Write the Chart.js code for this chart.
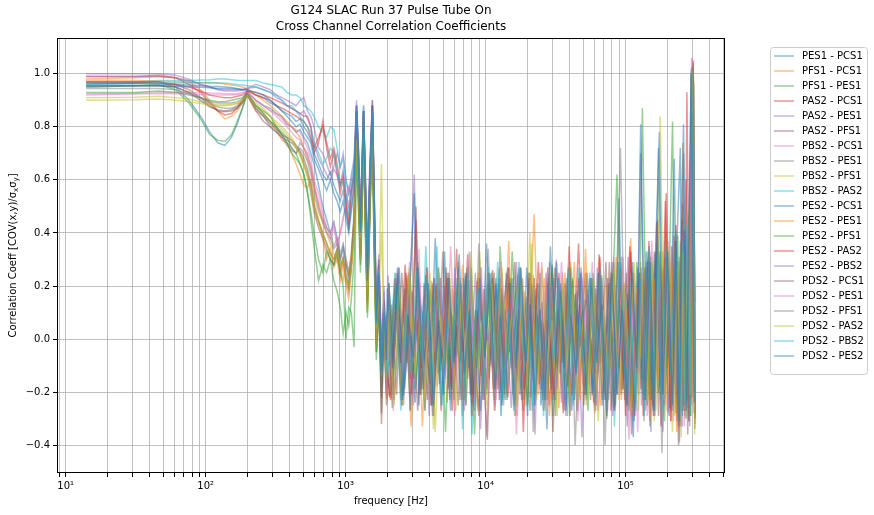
<!DOCTYPE html>
<html><head><meta charset="utf-8">
<script src="https://cdn.jsdelivr.net/npm/chart.js@4"></script>
<style>html,body{margin:0;padding:0;background:#fff}#wrap{position:relative;width:874px;height:515px}</style>
</head><body><div id="wrap"><canvas id="c" width="874" height="515"></canvas></div>
<script>
// ---- frequency grid (Hz) ----
const freqLow = [14,31,46,61,76,92,107,122,137,153,168,183,198];
const freqMid = [229,259,290,320,351,381,412,443,473,504,534,565];
const freqTrans = [595,641,687,732,778,824,870,916,961,1007,1053,1099,1150,1197,1237,1277,1310,1344,1390,1432,1490,1554,1600,1659,1730,1805,1880,1960];
// interleaved sampling grids above 2 kHz (series i uses grid i % 6)
const freqNoiseA = [2040,2220,2415,2628,2859,3140,3390,3690,4010,4370,
 4750,5170,5630,6120,6660,7250,7890,8580,9340,10160,
 11060,12030,13090,14240,15500,16860,18350,19960,21330,23210,
 25250,27470,29890,32520,35380,38500,41880,45570,49580,53940,
 58690,63850,69470,75590,82240,89470,97350,105900,115200,124000,
 132000,143000,154000,165000,177000,190000,205000,223000,236000,250000,
 258000,267000,280000,292000,300000,312000];
const freqNoiseB = [2098,2283,2484,2703,2940,3229,3487,3795,4124,4495,
 4885,5317,5790,6294,6850,7457,8115,8825,9606,10450,
 11375,12373,13463,14646,15942,17341,18873,20529,21938,23871,
 25970,28253,30742,33447,36388,39597,43074,46869,50993,55477,
 60363,65670,71450,77744,84584,92020,100125,108918,118483,127534,
 135762,147076,158389,169703,182045,195415,210843,229356,242726,257125,
 265353,274610,287980,300322,305000,314000];
const freqNoiseC = [1983,2158,2348,2555,2780,3053,3296,3588,3899,4249,
 4618,5027,5474,5950,6475,7049,7671,8342,9081,9878,
 10754,11697,12727,13845,15070,16393,17842,19407,20739,22567,
 24550,26709,29062,31619,34400,37433,40720,44307,48206,52445,
 57064,62081,67545,73495,79961,86991,94652,102965,112008,120564,
 128342,139037,149733,160428,172095,184735,199319,216820,229460,243072,
 250851,259601,272241,283909,295000,310000];
const freqNoiseD = [2069,2252,2449,2665,2900,3185,3438,3742,4067,4432,
 4817,5243,5710,6207,6755,7353,8002,8702,9473,10304,
 11217,12201,13276,14442,15720,17099,18611,20243,21633,23540,
 25609,27860,30314,32982,35882,39047,42475,46217,50284,54706,
 59523,64757,70456,76663,83408,90740,98732,107404,116836,125761,
 133874,145031,156187,167343,179513,192698,207911,226167,239351,253550,
 261664,270791,283976,296146,303000,313000];
const freqNoiseE = [2011,2189,2381,2591,2819,3096,3343,3638,3954,4309,
 4684,5098,5551,6034,6567,7149,7780,8460,9209,10018,
 10905,11862,12907,14041,15283,16624,18093,19681,21031,22885,
 24897,27086,29472,32065,34885,37961,41294,44932,48886,53185,
 57868,62956,68497,74532,81089,88217,95987,104417,113587,122264,
 130152,140998,151844,162690,174522,187340,202130,219878,232696,246500,
 254388,263262,276080,287912,297000,311000];
const freqNoiseF = [2128,2315,2519,2741,2982,3275,3536,3849,4182,4558,
 4954,5392,5872,6383,6946,7562,8229,8949,9742,10597,
 11536,12547,13653,14852,16167,17585,19139,20818,22247,24208,
 26336,28651,31175,33918,36901,40156,43681,47530,51712,56259,
 61214,66596,72457,78840,85776,93317,101536,110454,120154,129332,
 137676,149149,160622,172095,184611,198170,213815,232589,246148,260750,
 269094,278481,292040,298000,306000,315000];
const freqGrids = [freqNoiseA, freqNoiseB, freqNoiseC, freqNoiseD, freqNoiseE, freqNoiseF]
  .map(n => [].concat(freqLow, freqMid, freqTrans, n));

const seriesNames = ["PES1 - PCS1","PFS1 - PCS1","PFS1 - PES1","PAS2 - PCS1","PAS2 - PES1","PAS2 - PFS1","PBS2 - PCS1","PBS2 - PES1","PBS2 - PFS1","PBS2 - PAS2","PES2 - PCS1","PES2 - PES1","PES2 - PFS1","PES2 - PAS2","PES2 - PBS2","PDS2 - PCS1","PDS2 - PES1","PDS2 - PFS1","PDS2 - PAS2","PDS2 - PBS2","PDS2 - PES2"];

const yTicks = [-0.4,-0.2,0.0,0.2,0.4,0.6,0.8,1.0];

// ---- series values (low / mid / transition / noise) ----
const s0 = [.96,.965,.97,.95,.90,.84,.78,.74,.73,.76,.81,.87,.93,
 .90,.88,.87,.85,.84,.81,.80,.78,.79,.76,.74,.70,
 .66,.58,.50,.45,.40,.44,.38,.30,.35,.28,.22,.30,.45,.80,.62,.40,.55,.82,.50,.25,.60,.85,.45,.05,.20,-.15,.10,-.12,
 .21,-.08,.27,-.19,.04,-.24,.15,.02,-.17,.38, -.12,.09,-.27,.18,-.05,.24,-.21,.11,-.14,.36, -.03,.19,-.25,.07,.23,-.16,.13,-.29,.20,-.06,
 .14,-.34,.28,-.10,.05,-.18,.22,-.27,.09,.17, -.20,.25,-.12,.08,-.26,.53,-.15,.19,-.31,.12, -.08,.27,-.23,.33,-.18,.10,-.29,.68,-.21,.36, -.27,.24,-.16,.41,1.0,-.24];
const s1 = [.98,.985,.99,.985,.97,.94,.90,.86,.83,.84,.86,.89,.92,
 .86,.84,.82,.79,.75,.74,.70,.66,.62,.58,.57,.60,
 .52,.45,.38,.30,.34,.27,.30,.22,.28,.20,.15,.25,.40,.72,.55,.32,.50,.80,.42,.15,.52,.82,.40,-.05,.12,-.20,.05,-.18,
 -.14,.25,-.20,.09,-.33,.17,.03,-.11,.22,-.18, .08,-.24,.19,-.06,.28,-.15,.12,-.27,.05,.21, -.19,.14,-.08,.37,-.23,.02,.18,-.13,.24,-.21,
 .06,-.17,.23,-.26,.11,-.04,.29,-.19,.15,-.09, -.28,.20,-.05,.16,-.22,.27,-.14,.38,-.24,.10, -.19,.35,-.26,.18,-.09,.40,-.31,.24,-.15,.74, -.30,.38,-.22,.45,.98,-.29];
const s2 = [.95,.955,.96,.94,.89,.83,.77,.75,.745,.77,.82,.87,.92,
 .88,.86,.84,.80,.78,.76,.72,.70,.66,.62,.56,.45,
 .35,.22,.28,.25,.30,.22,.18,.12,.02,.10,.05,.15,.30,.70,.48,.25,.45,.75,.35,.08,.45,.78,.30,-.08,.10,-.22,.08,-.15,
 .10,-.26,.18,-.05,.24,-.15,.29,-.09,.04,-.21, .27,-.12,.07,-.23,.16,.01,.22,-.36,.13,-.07, .19,-.18,.35,-.10,-.02,-.25,.14,-.06,.25,-.20,
 .08,-.16,.21,-.29,.18,-.11,.27,-.14,.03,-.23, .20,-.07,.24,-.30,.12,.62,-.19,.17,-.26,.29, -.11,.20,-.33,.25,-.20,.27,-.07,.82,-.28,.31, -.17,.40,-.30,.35,1.02,-.20];
const s3 = [.99,.99,.995,.985,.96,.93,.89,.86,.845,.85,.87,.90,.935,
 .93,.92,.91,.90,.89,.88,.87,.86,.85,.84,.84,.80,
 .70,.74,.82,.72,.65,.70,.62,.55,.60,.50,.42,.55,.62,.88,.70,.45,.65,.86,.55,.30,.62,.90,.55,.10,.30,-.10,.15,-.05,
 -.22,.19,-.06,.28,-.15,.45,-.19,.24,-.03,.20, -.27,.10,-.16,.34,-.09,.13,-.25,.22,.04,-.19, .26,-.11,.17,-.22,.08,.24,-.35,.12,-.16,.21,
 -.07,.27,-.23,.11,-.28,.16,-.04,.36,-.18,.09, -.24,.32,-.10,.21,-.27,.23,-.15,.35,-.06,.25, -.29,.30,-.17,.44,-.12,.52,-.26,.37,-.33,.45, -.21,.60,-.24,.50,1.04,.14];
const s4 = [1.0,1.0,1.0,.995,.98,.96,.95,.94,.935,.935,.935,.94,.945,
 .96,.95,.94,.92,.91,.90,.89,.88,.90,.91,.86,.84,
 .80,.72,.70,.66,.62,.65,.70,.65,.70,.60,.55,.62,.68,.90,.72,.50,.66,.88,.60,.35,.66,.90,.58,.15,.32,-.05,.20,-.10,
 .24,-.09,.13,-.25,.07,.62,-.21,.16,-.29,.23, -.04,.20,-.18,.27,-.23,.09,-.12,.25,-.34,.15, -.10,.23,-.20,.05,-.26,.29,-.08,.16,-.22,.13,
 -.19,.25,-.07,.30,-.24,.06,-.21,.18,-.37,.19, -.11,.27,-.23,.10,-.29,.15,-.09,.31,-.18,.22, -.25,.29,-.35,.32,-.15,.26,-.28,.39,-.22,.30, -.33,.36,-.26,.44,1.0,-.28];
const s5 = [.965,.965,.965,.96,.94,.91,.88,.86,.857,.86,.87,.89,.92,
 .86,.82,.80,.78,.76,.75,.74,.72,.70,.66,.62,.55,
 .48,.42,.38,.34,.30,.28,.33,.25,.30,.22,.18,.28,.42,.78,.55,.30,.52,.80,.40,.12,.50,.85,.42,.00,.18,-.32,.05,-.20,
 .13,-.21,.25,-.09,.18,-.27,.05,-.23,.21,-.13, .33,-.19,.09,-.25,.23,-.11,.03,-.29,.19,-.15, .25,-.23,.11,-.05,.29,-.21,.07,-.27,.23,-.17,
 .05,-.25,.27,-.13,.21,-.29,.17,-.03,.25,-.23, .19,-.09,.29,-.27,.07,-.21,.25,-.36,.17,-.19, .27,-.23,.33,-.29,.25,-.11,.35,-.31,.29,-.25, .33,-.36,.46,-.22,.96,-.30];
const s6 = [.92,.925,.93,.93,.93,.93,.928,.927,.925,.925,.925,.93,.935,
 .90,.88,.86,.85,.83,.81,.80,.79,.78,.75,.72,.68,
 .60,.55,.48,.42,.38,.42,.35,.40,.46,.50,.57,.55,.60,.85,.65,.40,.58,.84,.52,.22,.55,.86,.48,.05,.22,-.08,.12,-.15,
 .17,-.23,.05,-.13,.29,-.07,.21,-.27,.09,-.02, .23,-.15,.35,-.09,.07,-.25,.19,-.05,.27,-.37, .15,-.11,.25,-.21,.05,-.29,.23,-.15,.13,-.04,
 .29,-.17,.07,-.19,.25,-.09,.21,-.31,.05,-.17, .23,-.27,.11,-.07,.31,-.21,.15,-.38,.25,-.13, .21,-.29,.37,-.11,.27,-.25,.33,-.15,.29,-.33, .41,-.27,.35,-.23,1.06,-.18];
const s7 = [.95,.955,.955,.95,.93,.91,.89,.875,.87,.87,.88,.90,.93,
 .88,.85,.82,.80,.77,.74,.72,.70,.74,.72,.70,.65,
 .58,.50,.45,.42,.40,.35,.38,.32,.36,.30,.25,.32,.48,.80,.58,.35,.55,.82,.46,.18,.50,.84,.44,.02,.18,-.18,.10,-.10,
 -.09,.21,-.23,.07,-.05,.27,-.19,.17,-.25,.03, -.21,.25,-.07,.19,-.29,.15,-.11,.23,-.05,.34, -.19,.07,-.25,.21,-.09,.27,-.23,.05,-.35,.17,
 -.07,.23,-.17,.09,-.27,.21,-.05,.25,-.21,.07, -.25,.19,-.40,.23,-.11,.72,-.21,.27,-.09,.21, -.31,.25,-.13,.31,-.43,.23,-.27,.33,-.15,.37, -.29,.31,-.33,.43,.98,-.26];
const s8 = [.91,.912,.915,.91,.905,.895,.888,.883,.883,.885,.89,.90,.92,
 .89,.87,.84,.82,.80,.78,.76,.73,.70,.66,.62,.58,
 .50,.45,.40,.36,.33,.30,.34,.28,.30,.24,.20,.28,.42,.76,.55,.32,.50,.78,.40,.12,.48,.80,.38,.00,.20,.66,.05,-.12,
 .07,-.17,.23,-.25,.15,-.03,.27,-.21,.05,-.34, .19,-.09,.25,-.05,.21,-.23,.07,-.19,.33,-.11, .15,-.25,.21,-.07,.23,-.29,.11,-.05,.40,-.21,
 .07,-.27,.25,-.11,.05,-.23,.29,-.09,.19,-.25, .23,-.11,.07,-.29,.27,-.15,.09,-.25,.21,-.07, .29,-.23,.25,-.31,.33,-.13,.27,-.35,.39,-.25, .31,-.21,.45,-.29,1.0,-.22];
const s9 = [.97,.97,.975,.975,.975,.977,.978,.98,.98,.978,.976,.975,.975,
 .975,.965,.96,.955,.95,.93,.92,.92,.91,.88,.87,.86,
 .84,.80,.78,.76,.80,.79,.72,.65,.68,.60,.55,.60,.66,.88,.70,.45,.64,.88,.58,.30,.62,.88,.56,.10,.28,-.12,.15,-.18,
 -.05,.25,-.11,.19,-.27,.07,-.21,.35,-.07,.17, -.25,.05,-.19,.23,-.09,.27,-.36,.09,-.03,.21, -.11,.29,-.23,.07,-.13,.25,-.05,.21,-.27,.09,
 -.21,.11,-.29,.23,-.07,.19,-.25,.27,-.09,.05, -.23,.25,-.11,.21,-.33,.29,-.07,.23,-.25,.19, -.21,.33,-.27,.29,-.23,.37,-.13,.31,-.29,.35, -.25,.39,-.21,.49,1.02,-.26];
const s10 = [.965,.965,.962,.96,.958,.955,.953,.952,.95,.948,.945,.94,.94,
 .92,.91,.89,.88,.86,.85,.84,.82,.83,.80,.78,.75,
 .70,.66,.62,.60,.63,.58,.55,.52,.56,.48,.42,.50,.58,.88,.66,.42,.60,.86,.52,.25,.58,.88,.50,.08,.25,-.10,.12,-.05,
 .19,-.07,.27,-.21,.09,.55,-.25,.21,-.05,.23, -.17,.33,-.23,.07,-.09,.25,-.21,.11,-.27,.05, -.07,.21,-.29,.25,-.11,.09,-.23,.27,-.03,.19,
 -.25,.07,-.19,.29,-.09,.23,-.27,.11,-.05,.25, -.21,.09,-.25,.23,-.07,.29,-.19,.15,-.37,.27, -.15,.33,-.23,.27,.78,-.21,.31,-.27,.35,.72, -.29,.41,-.23,.37,1.0,-.20];
const s11 = [.975,.975,.972,.97,.968,.966,.965,.965,.962,.958,.955,.95,.945,
 .92,.90,.88,.86,.84,.82,.80,.78,.76,.72,.68,.64,
 .58,.50,.44,.40,.36,.32,.30,.26,.22,.30,.25,.32,.45,.82,.58,.35,.55,.84,.45,.15,.52,.86,.42,.00,.20,-.15,.08,-.22,
 -.19,.11,-.25,.23,-.07,.19,-.33,.09,-.21,.27, -.05,.21,-.11,.29,-.23,.07,-.19,.25,-.09,.21, -.27,.09,-.21,.23,-.07,.27,-.25,.13,.47,-.17,
 .23,-.29,.11,-.09,.25,-.21,.07,-.23,.34,-.13, .09,-.25,.21,-.11,.31,-.23,.11,-.29,.19,-.07, .27,-.31,.23,-.15,.33,-.27,.29,-.35,.37,-.23, .35,-.29,.43,-.25,.97,-.32];
const s12 = [.93,.93,.935,.93,.92,.91,.90,.895,.895,.90,.905,.91,.925,
 .88,.85,.82,.80,.77,.74,.70,.68,.66,.62,.55,.48,
 .40,.30,.25,.33,.30,.28,.32,.25,.20,.00,.12,.10,-.03,.72,.50,.28,.48,.76,.38,.10,.46,.80,.35,-.05,.15,-.18,.06,-.15,
 .21,-.23,.09,-.05,.25,-.19,.07,-.27,.19,-.09, .23,-.35,.11,-.07,.21,-.25,.27,-.11,.05,-.21, .25,-.09,.19,-.23,.33,-.05,.09,-.25,.21,-.13,
 .07,-.23,.27,-.11,.19,-.29,.23,-.07,.11,-.27, .25,-.13,.09,-.23,.29,-.11,.21,-.27,.07,-.21, .87,-.25,.29,-.13,.33,-.31,.27,-.17,.39,-.27, .33,-.23,.47,-.29,1.03,-.24];
const s13 = [.97,.97,.97,.96,.95,.935,.92,.914,.91,.91,.915,.92,.935,
 .92,.91,.90,.88,.87,.86,.85,.84,.83,.82,.80,.76,
 .72,.76,.80,.74,.68,.72,.66,.58,.62,.52,.45,.56,.62,.86,.68,.44,.62,.86,.54,.28,.60,.88,.52,.08,.28,-.08,.14,-.12,
 -.23,.13,-.09,.25,-.21,.07,-.11,.27,-.25,.11, -.07,.23,-.27,.13,-.05,.32,-.21,.09,-.23,.25, -.11,.21,-.07,.27,-.25,.11,-.19,.23,-.05,.29,
 -.27,.09,-.21,.25,-.11,.35,-.23,.13,-.09,.23, -.13,.31,-.23,.11,-.25,.27,-.29,.33,-.09,.23, -.23,.37,-.29,.45,-.21,.55,-.31,.43,-.25,.51, -.27,.93,-.23,.55,1.05,-.22];
const s14 = [.99,.99,.99,.985,.975,.96,.95,.942,.94,.94,.94,.942,.945,
 .95,.94,.93,.91,.90,.88,.87,.86,.85,.86,.83,.80,
 .74,.68,.65,.62,.60,.64,.62,.58,.64,.55,.50,.58,.64,.88,.70,.48,.64,.86,.56,.32,.64,.88,.55,.12,.30,-.08,.18,-.08,
 .09,-.21,.27,-.07,.19,-.25,.23,-.11,.05,-.29, .21,-.09,.25,-.21,.11,-.27,.33,-.07,.19,-.23, .07,-.27,.23,-.13,.09,-.23,.27,-.09,.21,-.36,
 .25,-.11,.19,-.23,.07,-.29,.21,-.13,.27,-.07, .11,-.25,.23,-.09,.29,-.21,.07,-.33,.25,-.13, .70,-.27,.31,-.23,.27,-.35,.33,-.21,.29,-.39, .37,-.25,.41,-.31,1.01,-.28];
const s15 = [.955,.955,.955,.95,.93,.90,.875,.865,.86,.865,.875,.895,.925,
 .87,.84,.81,.79,.77,.76,.75,.73,.71,.68,.64,.58,
 .50,.44,.40,.36,.32,.30,.34,.27,.31,.24,.20,.28,.44,.80,.56,.32,.52,.82,.42,.14,.50,.84,.40,-.02,.16,-.28,.02,-.25,
 -.11,.23,-.07,.19,-.27,.50,-.21,.09,-.25,.21, -.09,.27,-.19,.05,-.23,.25,-.29,.11,-.07,-.38, .23,-.19,.09,.27,-.21,.07,-.27,.25,-.11,.09,
 -.23,.21,-.35,.11,-.09,.27,-.19,.23,-.25,.07, -.11,.25,-.21,.29,-.27,.13,-.23,.09,-.29,.25, -.21,.29,-.25,.35,-.33,.31,-.13,.39,-.40,.27, -.27,.35,-.31,.41,.99,-.34];
const s16 = [.925,.925,.925,.925,.925,.922,.92,.92,.92,.92,.922,.925,.93,
 .90,.88,.86,.84,.82,.80,.78,.76,.75,.72,.69,.65,
 .58,.52,.46,.42,.40,.44,.36,.40,.45,.52,.57,.52,.58,.84,.62,.38,.56,.84,.50,.20,.54,.86,.46,.04,.20,-.10,.10,-.20,
 .19,-.27,.07,-.13,.25,-.09,.34,-.23,.11,-.05, .25,-.13,.09,-.29,.23,-.07,.21,-.25,.27,-.11, .07,-.23,.29,-.09,.19,-.36,.23,-.07,.25,-.21,
 .11,-.25,.21,-.07,.29,-.13,.09,-.27,.23,-.09, .29,-.15,.11,-.27,.23,-.09,.31,-.23,.13,-.35, .25,-.15,.33,-.29,.27,-.23,.37,-.31,.31,-.25, .39,-.33,.47,-.21,1.06,-.26];
const s17 = [.945,.945,.945,.94,.925,.91,.895,.89,.89,.89,.895,.905,.925,
 .87,.84,.80,.78,.76,.73,.71,.70,.72,.70,.67,.62,
 .55,.48,.44,.40,.38,.34,.36,.30,.34,.28,.24,.30,.46,.78,.56,.34,.53,.80,.44,.16,.48,.82,.42,.00,.16,-.20,.08,-.12,
 -.21,.09,-.25,.21,-.11,.23,-.07,.27,-.29,.11, -.13,.23,-.09,.27,-.25,.07,-.21,.36,-.11,.19, -.23,.27,-.13,.09,-.29,.21,-.07,.25,-.21,.11,
 -.09,.29,-.23,.13,-.11,.25,-.40,.09,-.21,.23, -.27,.11,-.13,.25,-.07,.31,-.25,.21,-.11,.27, -.23,.31,-.29,.25,-.13,.35,-.27,.29,-.33,.70, -.25,.37,-.29,.43,.97,-.28];
const s18 = [.90,.902,.905,.90,.895,.888,.882,.88,.88,.882,.888,.90,.92,
 .88,.86,.84,.81,.79,.77,.75,.72,.69,.65,.61,.57,
 .50,.44,.40,.36,.32,.30,.33,.27,.30,.23,.19,.27,.40,.75,.54,.30,.50,.78,.40,.10,.48,.80,.38,-.02,.18,.40,.04,-.15,
 .11,-.25,.21,-.09,.27,-.13,.07,-.23,.25,-.35, .09,-.11,.23,-.27,.13,-.05,.33,-.21,.07,-.25, .21,-.13,.27,-.07,.11,-.25,.23,-.09,.36,-.23,
 .27,-.09,.07,-.29,.23,-.11,.19,-.25,.09,-.21, .23,-.31,.11,-.13,.27,-.23,.21,-.09,.29,-.27, .25,-.23,.31,-.27,.84,-.21,.35,-.29,.27,-.37, .33,-.27,.49,-.21,1.0,-.36];
const s19 = [.96,.962,.965,.965,.966,.966,.966,.965,.965,.963,.96,.958,.955,
 .95,.94,.93,.92,.90,.88,.88,.86,.84,.82,.80,.78,
 .74,.70,.66,.68,.72,.70,.64,.58,.60,.54,.48,.56,.62,.86,.66,.42,.60,.86,.54,.26,.60,.86,.52,.06,.26,-.14,.12,-.12,
 -.07,.21,-.27,.11,-.13,.25,-.09,.23,-.21,.35, -.25,.09,-.11,.21,-.34,.25,-.07,.19,-.23,.27, -.09,.23,-.21,.11,-.27,.29,-.13,.07,-.25,.21,
 -.29,.13,-.09,.23,-.21,.27,-.23,.09,-.13,.25, -.11,.27,-.23,.13,-.25,.29,-.21,.11,-.27,.23, -.29,.35,-.23,.39,-.27,.33,-.13,.41,-.31,.37, -.25,.43,-.29,.51,1.01,-.22];
const s20 = [.955,.955,.955,.953,.951,.949,.947,.945,.945,.945,.943,.94,.94,
 .93,.92,.90,.88,.86,.84,.82,.80,.81,.78,.76,.74,
 .68,.64,.60,.56,.60,.55,.52,.48,.52,.45,.40,.48,.56,.86,.64,.40,.58,.86,.50,.22,.56,.88,.48,.06,.24,-.12,.10,-.08,
 .19,-.11,.25,-.23,.09,-.07,.27,-.19,.21,-.25, .07,-.21,.23,-.09,.32,-.13,.11,-.27,.23,-.07, .25,-.19,.09,-.23,.21,-.11,.27,-.09,.13,-.25,
 .11,-.23,.35,-.07,.21,-.27,.09,-.13,.25,-.21, .23,-.09,.13,-.29,.25,-.21,.11,-.25,.29,-.11, .81,-.23,.29,-.27,.72,-.21,.33,-.25,.37,-.31, .39,.81,-.27,.47,1.0,-.24];

const seriesValues = [s0,s1,s2,s3,s4,s5,s6,s7,s8,s9,s10,s11,s12,s13,s14,s15,s16,s17,s18,s19,s20];

// ---- styling ----
const palette = ['#1f77b4','#ff7f0e','#2ca02c','#d62728','#9467bd','#8c564b','#e377c2','#7f7f7f','#bcbd22','#17becf'];
function rgba(hex, a){const n=parseInt(hex.slice(1),16);return `rgba(${n>>16&255},${n>>8&255},${n&255},${a})`;}
const FONT = "'DejaVu Sans', sans-serif";
const sup = ['\u2070','\u00b9','\u00b2','\u00b3','\u2074','\u2075','\u2076'];
const X_MIN = 8.67, X_MAX = 514000;

const datasets = seriesValues.map((vals, i) => {
  const fr = freqGrids[i % freqGrids.length];
  return {
    label: seriesNames[i],
    data: fr.map((f, j) => ({x: f, y: vals[j]})),
    borderColor: rgba(palette[i % 10], 0.5),
    backgroundColor: rgba(palette[i % 10], 0.5),
    borderWidth: 1.5,
    pointRadius: 0,
    fill: false,
    tension: 0,
    order: seriesValues.length - 1 - i
  };
});

const deco = {
  id: 'deco',
  afterDraw(chart) {
    const {ctx, chartArea: a} = chart;
    ctx.save();
    ctx.strokeStyle = '#000'; ctx.lineWidth = 1;
    const L = Math.round(a.left), T = Math.round(a.top), R = Math.round(a.right), B = Math.round(a.bottom);
    ctx.strokeRect(L + 0.5, T + 0.5, R - L - 1, B - T - 1);
    const cx = (a.left + a.right) / 2;
    ctx.fillStyle = '#000';
    ctx.textAlign = 'center'; ctx.textBaseline = 'middle';
    ctx.font = '12px ' + FONT;
    ctx.fillText('G124 SLAC Run 37 Pulse Tube On', cx, 11);
    ctx.fillText('Cross Channel Correlation Coefficients', cx, 27);
    ctx.font = '10px ' + FONT;
    ctx.fillText('frequency [Hz]', cx, 501);
    const parts = [['Correlation Coeff [COV(x,y)/\u03c3', 0], ['x', 1], ['\u03c3', 0], ['y', 1], [']', 0]];
    const fontFor = s => s ? '7px ' + FONT : '10px ' + FONT;
    let w = 0;
    parts.forEach(p => { ctx.font = fontFor(p[1]); w += ctx.measureText(p[0]).width; });
    ctx.translate(13, (a.top + a.bottom) / 2);
    ctx.rotate(-Math.PI / 2);
    ctx.textAlign = 'left'; ctx.textBaseline = 'middle';
    let x = -w / 2;
    parts.forEach(p => { ctx.font = fontFor(p[1]); ctx.fillText(p[0], x, p[1] ? 3 : 0); x += ctx.measureText(p[0]).width; });
    ctx.restore();
    // legend
    ctx.save();
    const lx = 770.5, ly = 47.5, lw = 97, lh = 327, r = 3;
    ctx.beginPath();
    ctx.moveTo(lx + r, ly); ctx.lineTo(lx + lw - r, ly); ctx.quadraticCurveTo(lx + lw, ly, lx + lw, ly + r);
    ctx.lineTo(lx + lw, ly + lh - r); ctx.quadraticCurveTo(lx + lw, ly + lh, lx + lw - r, ly + lh);
    ctx.lineTo(lx + r, ly + lh); ctx.quadraticCurveTo(lx, ly + lh, lx, ly + lh - r);
    ctx.lineTo(lx, ly + r); ctx.quadraticCurveTo(lx, ly, lx + r, ly); ctx.closePath();
    ctx.fillStyle = 'rgba(255,255,255,0.8)'; ctx.fill();
    ctx.strokeStyle = '#cccccc'; ctx.lineWidth = 1; ctx.stroke();
    ctx.font = '10px ' + FONT; ctx.textAlign = 'left'; ctx.textBaseline = 'middle';
    chart.data.datasets.forEach((d, i) => {
      const y = 56 + 15 * i;
      ctx.strokeStyle = d.borderColor; ctx.lineWidth = 1.5;
      ctx.beginPath(); ctx.moveTo(774, y); ctx.lineTo(794, y); ctx.stroke();
      ctx.fillStyle = '#000';
      ctx.fillText(d.label, 802, y + 0.5);
    });
    ctx.restore();
  }
};

new Chart(document.getElementById('c'), {
  type: 'line',
  data: {datasets},
  plugins: [deco],
  options: {
    responsive: false, animation: false, events: [],
    layout: {padding: {top: 38, right: 149, left: 0, bottom: 0}},
    plugins: {legend: {display: false}, tooltip: {enabled: false}, title: {display: false}},
    scales: {
      x: {
        type: 'logarithmic', min: X_MIN, max: X_MAX,
        afterBuildTicks: s => {
          const t = [];
          for (let e = 0; e <= 5; e++) for (let m = 1; m <= 9; m++) { const v = m * Math.pow(10, e); if (v >= X_MIN && v <= X_MAX) t.push({value: v}); }
          s.ticks = t;
        },
        afterFit: s => { s.height = 42; },
        ticks: {
          autoSkip: false, maxRotation: 0, minRotation: 0, padding: 3, color: '#000',
          font: {family: FONT, size: 10},
          callback: v => { const e = Math.log10(v); const r = Math.round(e); return Math.abs(e - r) < 1e-9 ? '10' + sup[r] : ''; }
        },
        grid: {color: '#b0b0b0', lineWidth: 0.8, tickLength: 4, tickColor: '#000', tickWidth: 1},
        border: {display: false}
      },
      y: {
        type: 'linear', min: -0.505, max: 1.135,
        afterBuildTicks: s => { s.ticks = yTicks.map(v => ({value: v})); },
        afterFit: s => { s.width = 57; },
        ticks: {
          padding: 3, color: '#000', font: {family: FONT, size: 10},
          callback: v => (v < -1e-9 ? '\u2212' : '') + Math.abs(v).toFixed(1)
        },
        grid: {color: '#b0b0b0', lineWidth: 0.8, tickLength: 4, tickColor: '#000', tickWidth: 1},
        border: {display: false}
      }
    }
  }
});
</script>
</body></html>
